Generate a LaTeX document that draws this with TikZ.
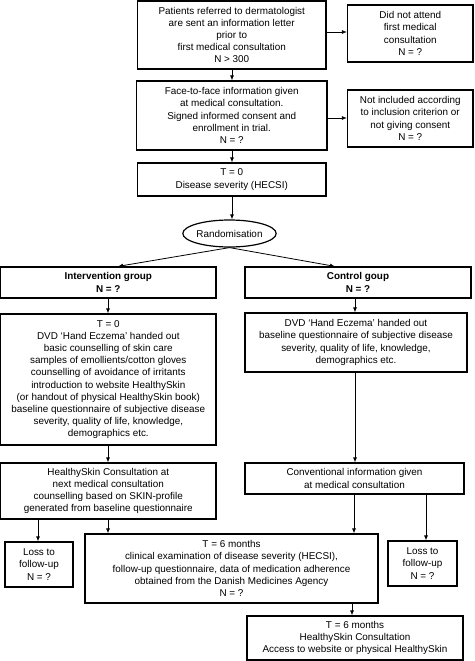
\documentclass[tikz,border=0pt]{standalone}
\usepackage{fontspec}
\setmainfont{Liberation Sans}
\usetikzlibrary{arrows.meta,shapes.geometric}
\begin{document}
\begin{tikzpicture}[x=1pt,y=-1pt,
  box/.style={draw,line width=1.2pt,rectangle,inner sep=0pt,align=center,
    font=\fontsize{9.9}{12.2}\selectfont},
  arr/.style={line width=0.8pt,-{Latex[length=5pt,width=4pt]}},
  ln/.style={line width=0.8pt}]
\useasboundingbox[fill=white] (0,0) rectangle (474,661);
\newcommand{\bx}[6]{\node[box,minimum width={#4-#2},minimum height={#5-#3}] (#1) at ({(#2+#4)/2},{(#3+#5)/2}) {#6};}
\bx{p1}{137.5}{1}{326}{69}{Patients referred to dermatologist\\are sent an information letter\\prior to\\first medical consultation\\N > 300}
\bx{dna}{347.5}{5}{473}{62}{Did not attend\\first medical\\consultation\\N = ?}
\bx{p2}{136.5}{81}{327}{150}{Face-to-face information given\\at medical consultation.\\Signed informed consent and\\enrollment in trial.\\N = ?}
\bx{ni}{347.5}{90}{473}{147}{Not included according\\to inclusion criterion or\\not giving consent\\N = ?}
\bx{p3}{137.5}{163}{326}{196}{T = 0\\Disease severity (HECSI)}
\node[draw,ellipse,line width=1.2pt,minimum width=89pt,minimum height=27pt,inner sep=0pt,
  font=\fontsize{9.9}{12.2}\selectfont] (rand) at (229.5,233.5) {Randomisation};
\bx{ig}{0.6}{267}{216}{298}{\textbf{Intervention group}\\\textbf{N = ?}}
\bx{cg}{245}{267}{471}{298}{\textbf{Control goup}\\\textbf{N = ?}}
\bx{it0}{0.6}{314}{216}{445}{T = 0\\DVD ‘Hand Eczema’ handed out\\basic counselling of skin care\\samples of emollients/cotton gloves\\counselling of avoidance of irritants\\introduction to website HealthySkin\\(or handout of physical HealthySkin book)\\baseline questionnaire of subjective disease\\severity, quality of life, knowledge,\\demographics etc.}
\bx{cdvd}{245}{313}{467}{372}{DVD ‘Hand Eczema’ handed out\\baseline questionnaire of subjective disease\\severity, quality of life, knowledge,\\demographics etc.}
\bx{hs}{0.6}{463}{216}{519}{HealthySkin Consultation at\\next medical consultation\\counselling based on SKIN-profile\\generated from baseline questionnaire}
\bx{conv}{245}{463}{464}{494}{Conventional information given\\at medical consultation}
\bx{lossl}{5}{542}{73}{587}{Loss to\\follow-up\\N = ?}
\bx{t6}{85}{534}{378}{603}{T = 6 months\\clinical examination of disease severity (HECSI),\\follow-up questionnaire, data of medication adherence\\obtained from the Danish Medicines Agency\\N = ?}
\bx{lossr}{388}{541}{457}{586}{Loss to\\follow-up\\N = ?}
\bx{fin}{247}{616}{463}{660}{T = 6 months\\HealthySkin Consultation\\Access to website or physical HealthySkin}
% connectors
\draw[arr] (p1.east |- 0,32) -- (dna.west |- 0,32);
\draw[arr] (p2.east |- 0,118) -- (ni.west |- 0,118);
\draw[arr] (232,0 |- p1.south) -- (232,0 |- p2.north);
\draw[arr] (232,0 |- p2.south) -- (232,0 |- p3.north);
\draw[arr] (232,0 |- p3.south) -- (232,0 |- rand.north);
\draw[arr] (rand.south) -- (118,0 |- ig.north);
\draw[arr] (rand.south) -- (335,0 |- cg.north);
\draw[arr] (108,0 |- ig.south) -- (108,0 |- it0.north);
\draw[arr] (355,0 |- cg.south) -- (355,0 |- cdvd.north);
\draw[arr] (108,0 |- it0.south) -- (108,0 |- hs.north);
\draw[arr] (355,0 |- cdvd.south) -- (355,0 |- conv.north);
\draw[arr] (38,0 |- hs.south) -- (38,0 |- lossl.north);
\draw[arr] (108,0 |- hs.south) -- (108,0 |- t6.north);
\draw[arr] (354,0 |- conv.south) -- (354,0 |- t6.north);
\draw[arr] (426,0 |- conv.south) -- (426,0 |- lossr.north);
\draw[arr] (352,0 |- t6.south) -- (352,0 |- fin.north);
\end{tikzpicture}
\end{document}
